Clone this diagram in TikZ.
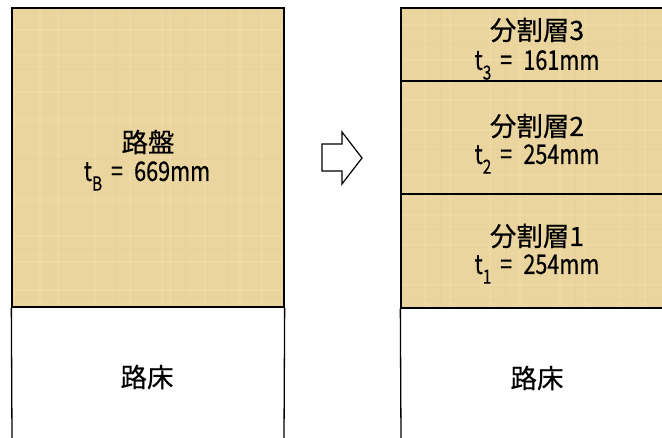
\documentclass[tikz,border=0pt]{standalone}
\usepackage{fontspec}
\newfontfamily\jp[FakeBold=0.5]{Noto Sans CJK JP}
\definecolor{papyrus}{RGB}{235,213,158}
\definecolor{papyruslight}{RGB}{243,226,182}
\definecolor{papyrusdark}{RGB}{226,201,142}
\newcommand{\sbs}[1]{\raisebox{-0.36em}{\scalebox{0.72}{#1}}}
\newcommand{\tline}[2]{\scalebox{0.8}[1]{t\sbs{#1}\hspace{11pt}=\hspace{14pt}#2mm}}
\tikzset{
  edge/.style={draw=black, line width=1.3pt},
  layerbox/.style={draw=black, line width=1.3pt, inner sep=0pt},
  lbl/.style={font=\jp\fontsize{26.5}{28}\selectfont, inner sep=0pt, anchor=center},
  lblt/.style={font=\jp\fontsize{27}{29}\selectfont, inner sep=0pt, anchor=center},
  tex/.style={papyruslight, line width=1.2pt, opacity=0.35},
  texd/.style={papyrusdark, line width=1pt, opacity=0.3},
}
\begin{document}
\begin{tikzpicture}[x=1pt,y=-1pt]
\useasboundingbox (0,0) rectangle (662,438);
\fill[white] (0,0) rectangle (662,438);
% left base
\fill[papyrus] (12,8) rectangle (284,307);
% right layers
\fill[papyrus] (401,8) rectangle (663,308);
% texture
\begin{scope}
\clip (12,8) rectangle (284,307);
\foreach \x in {40,58,95,130,162,170,205,240,262} \draw[tex] (\x,8) -- (\x,307);
\foreach \y in {30,55,92,120,200,236,262,290} \draw[tex] (12,\y) -- (284,\y);
\foreach \x in {50,115,185,228} \draw[texd] (\x,8) -- (\x,307);
\foreach \y in {70,160,250,298} \draw[texd] (12,\y) -- (284,\y);
\end{scope}
\begin{scope}
\clip (401,8) rectangle (663,308);
\foreach \x in {425,450,490,520,560,585,620,645} \draw[tex] (\x,8) -- (\x,308);
\foreach \y in {25,60,100,130,175,215,245,285} \draw[tex] (401,\y) -- (663,\y);
\foreach \x in {440,505,575,635} \draw[texd] (\x,8) -- (\x,308);
\foreach \y in {45,150,230,300} \draw[texd] (401,\y) -- (663,\y);
\end{scope}
% outlines
\node[layerbox, minimum width=272pt, minimum height=299pt] (base) at (148,157.5) {};
\coordinate (lbl) at (12,438.5);
\coordinate (lbr) at (284,438.5);
\draw[edge] (base.south west) -- (lbl);
\draw[edge] (base.south east) -- (lbr);
\node[layerbox, minimum width=262pt, minimum height=73pt] (s3) at (532,44.5) {};
\node[layerbox, minimum width=262pt, minimum height=113pt] (s2) at (532,137.5) {};
\node[layerbox, minimum width=262pt, minimum height=114pt] (s1) at (532,251) {};
\coordinate (rbl) at (401,438.5);
\draw[edge] (s1.south west) -- (rbl);
% texts
\node[lbl] (t0a) at (148,142) {路盤};
\node[lblt] (t0b) at (147,176) {\tline{B}{669}};
\node[lbl] (t3a) at (537,30) {分割層3};
\node[lblt] (t3b) at (537,65) {\tline{3}{161}};
\node[lbl] (t2a) at (537,126) {分割層2};
\node[lblt] (t2b) at (537,159) {\tline{2}{254}};
\node[lbl] (t1a) at (537,236) {分割層1};
\node[lblt] (t1b) at (537,269) {\tline{1}{254}};
\node[lbl] (g1) at (147,377) {路床};
\node[lbl] (g2) at (537,378) {路床};
% arrow
\draw[black, line width=1.2pt, fill=white, line join=miter]
  (322,144) -- (342,144) -- (342,132) -- (362,158) -- (342,184) -- (342,171) -- (322,171) -- cycle;
\end{tikzpicture}
\end{document}
